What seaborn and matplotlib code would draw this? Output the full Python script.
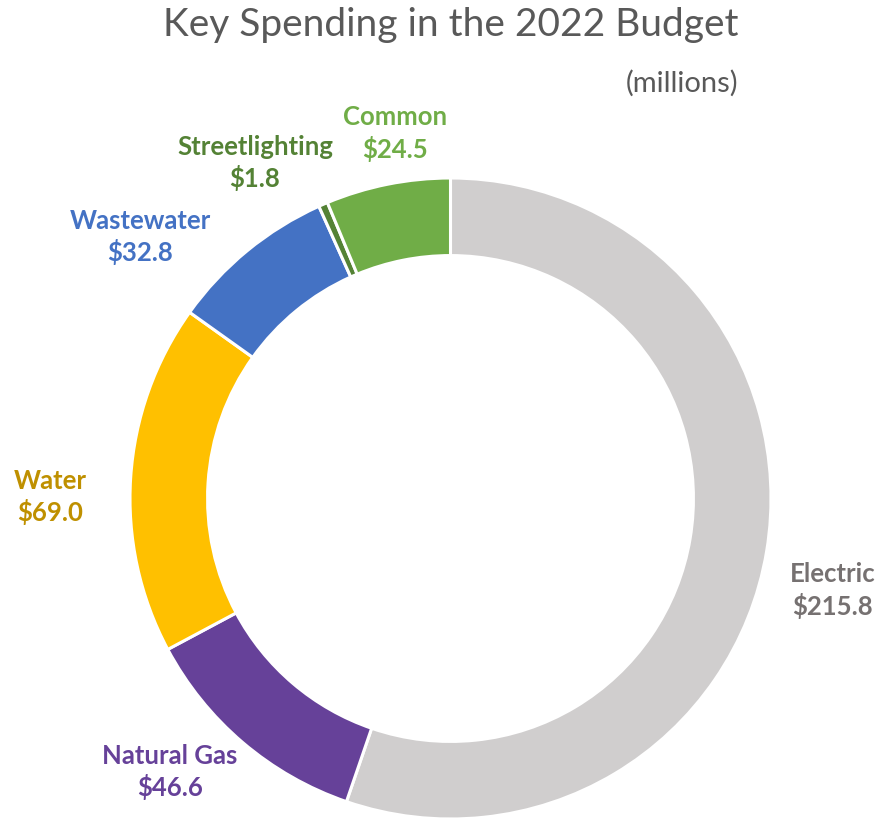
import matplotlib
matplotlib.use("Agg")
import matplotlib.pyplot as plt
import seaborn as sns

# Budget categories (millions), drawn clockwise from 12 o'clock
categories = ["Electric", "Natural Gas", "Water", "Wastewater", "Streetlighting", "Common"]
values = [215.8, 46.6, 69.0, 32.8, 1.8, 24.5]
wedge_colors = ["#D0CECE", "#664199", "#FFC000", "#4472C4", "#548235", "#70AD47"]
label_colors = ["#767171", "#664199", "#BF9000", "#4472C4", "#548235", "#70AD47"]
label_pos = [(1.193, -0.287), (-0.875, -0.853), (-1.25, 0.005),
             (-0.969, 0.816), (-0.610, 1.047), (-0.173, 1.139)]

sns.set_theme(style="white")
plt.rcParams["font.family"] = ["Lato", "DejaVu Sans"]

fig = plt.figure(figsize=(8.77, 8.21), dpi=100)
ax = fig.add_axes([130 / 877, 2 / 821, 641 / 877, 641 / 821])

ax.pie(values, colors=wedge_colors, startangle=90, counterclock=False,
       radius=1.0,
       wedgeprops=dict(width=0.242, edgecolor="white", linewidth=2.2))
ax.set_xlim(-1, 1)
ax.set_ylim(-1, 1)
ax.set_aspect("equal")
ax.axis("off")

for name, val, col, (x, y) in zip(categories, values, label_colors, label_pos):
    ax.text(x, y, f"{name}\n${val:.1f}", ha="center", va="center",
            fontsize=18.5, fontweight="bold", color=col, linespacing=1.3,
            clip_on=False)

fig.text(451 / 877, 1 - 25 / 821, "Key Spending in the 2022 Budget",
         ha="center", va="center", fontsize=28, color="#595959")
fig.text(738 / 877, 1 - 83 / 821, "(millions)", ha="right", va="center",
         fontsize=21, color="#595959")

fig.savefig("out.png", dpi=100)
